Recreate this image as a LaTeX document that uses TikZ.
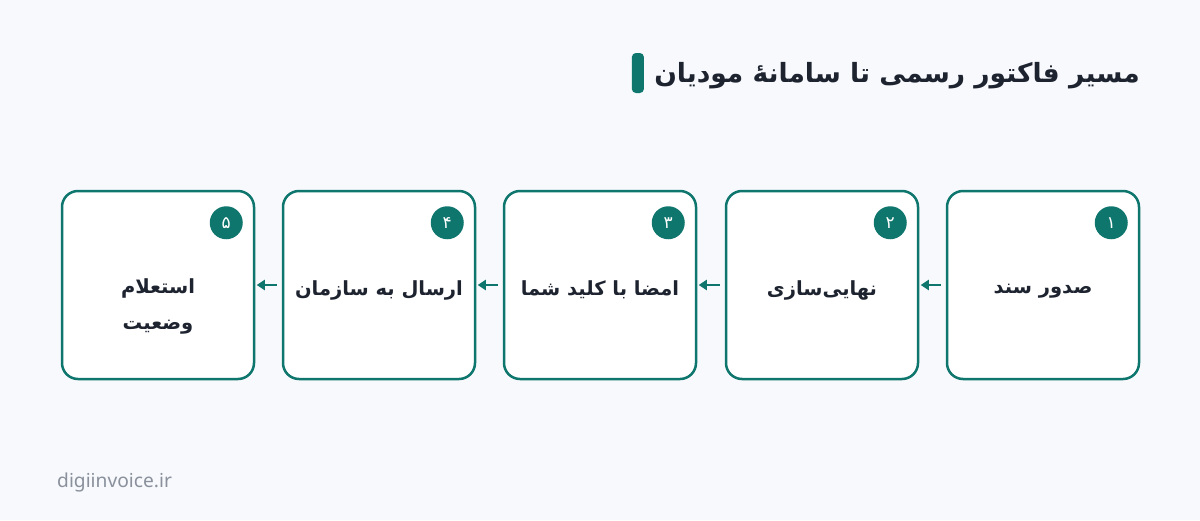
\documentclass[tikz,border=0pt]{standalone}
\usepackage{fontspec}
\setmainfont{Noto Sans}
\newfontfamily\arabicfont[Script=Arabic]{DejaVu Sans}
\TeXXeTstate=1
\usetikzlibrary{arrows.meta,calc}
\definecolor{tealc}{HTML}{0F766E}
\definecolor{bgc}{HTML}{F7F9FC}
\definecolor{inkc}{HTML}{1E2330}
\definecolor{grayc}{HTML}{8A919C}
\tikzset{
  stepbox/.style={draw=tealc, line width=2.5pt, fill=white, rounded corners=16pt,
    minimum width=192pt, minimum height=188pt, inner sep=0pt},
  steptext/.style={align=center, inner sep=0pt,
    text=inkc, font=\arabicfont\bfseries\fontsize{19.5}{36}\selectfont},
  numc/.style={circle, fill=tealc, minimum size=33pt, inner sep=0pt, text=white,
    font=\arabicfont\fontsize{17}{17}\selectfont},
  arr/.style={draw=tealc, line width=2.5pt, -{Triangle[length=8pt,width=10pt]},
    shorten >=1.5pt, shorten <=5pt},
}
\begin{document}
\begin{tikzpicture}[x=1pt,y=-1pt]
\fill[bgc] (0,0) rectangle (1200,520);
\useasboundingbox (0,0) rectangle (1200,520);
% title
\node[anchor=east, inner sep=0pt, text=inkc, font=\arabicfont\bfseries\fontsize{26.5}{30}\selectfont] (title) at (1140,76) {\beginR مسیر فاکتور رسمی تا سامانهٔ مودیان\endR};
\node[anchor=east, fill=tealc, rounded corners=4pt, minimum width=12pt, minimum height=40pt, inner sep=0pt] (bar) at ($(title.west)+(-10,-3)$) {};
% boxes
\node[stepbox] (b1) at (1043,285) {};
\node[stepbox] (b2) at (822,285) {};
\node[stepbox] (b3) at (600,285) {};
\node[stepbox] (b4) at (379,285) {};
\node[stepbox] (b5) at (158,285) {};
% texts
\node[steptext] (t1) at ($(b1.center)+(0,6)$) {\beginR صدور سند\endR};
\node[steptext] (t2) at ($(b2.center)+(0,5)$) {\beginR نهایی‌سازی\endR};
\node[steptext] (t3) at ($(b3.center)+(0,5)$) {\beginR امضا با کلید شما\endR};
\node[steptext] (t4) at ($(b4.center)+(0,5)$) {\beginR ارسال به سازمان\endR};
\node[steptext] (t5) at ($(b5.center)+(0,21)$) {\beginR استعلام\endR\\\beginR وضعیت\endR};
% numbers
\node[numc] (n1) at ($(b1.north east)+(-29,33)$) {۱};
\node[numc] (n2) at ($(b2.north east)+(-29,33)$) {۲};
\node[numc] (n3) at ($(b3.north east)+(-29,33)$) {۳};
\node[numc] (n4) at ($(b4.north east)+(-29,33)$) {۴};
\node[numc] (n5) at ($(b5.north east)+(-29,33)$) {۵};
% arrows
\draw[arr] (b1.west) -- (b2.east);
\draw[arr] (b2.west) -- (b3.east);
\draw[arr] (b3.west) -- (b4.east);
\draw[arr] (b4.west) -- (b5.east);
% footer
\node[anchor=west, inner sep=0pt, text=grayc, font=\fontsize{19.2}{20}\selectfont] (foot) at (57,483) {digiinvoice.ir};
\end{tikzpicture}
\end{document}
